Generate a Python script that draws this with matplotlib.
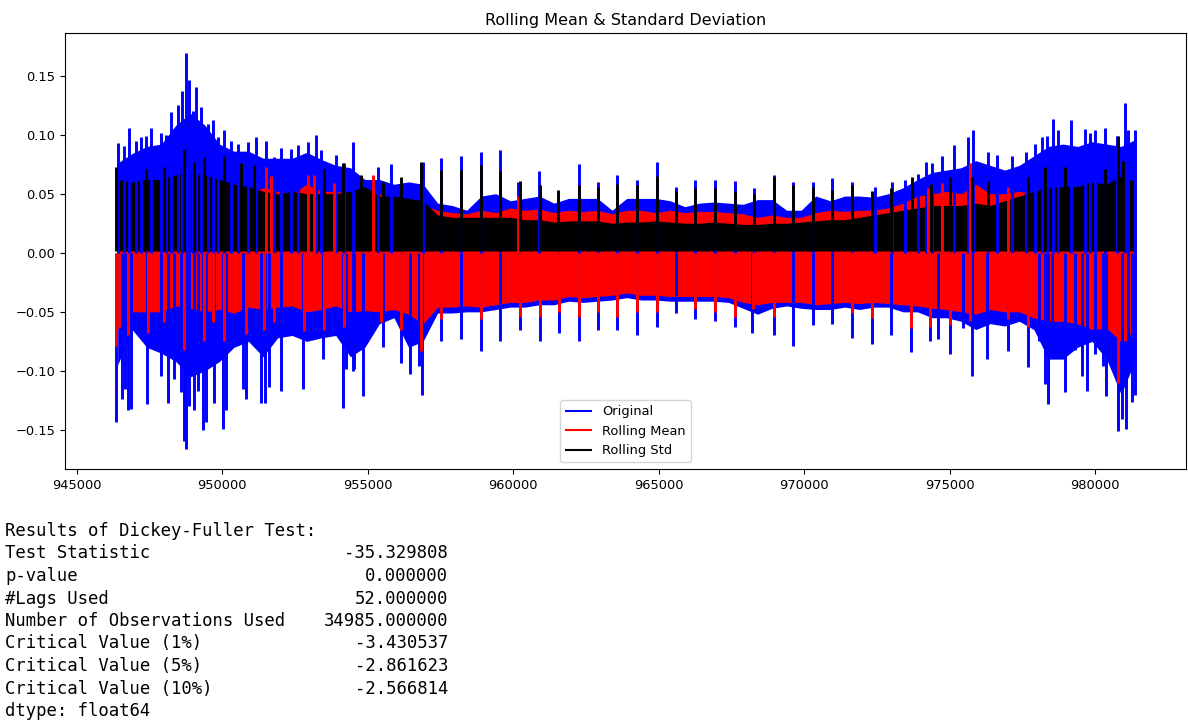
import numpy as np
import matplotlib
matplotlib.use("Agg")
import matplotlib.pyplot as plt

# outline of each series, sampled every 500 steps
grid_x = np.arange(946400, 981401, 500)

orig_hi = [0.076, 0.084, 0.090, 0.092, 0.108, 0.118, 0.108, 0.092, 0.086, 0.086,
           0.080, 0.080, 0.080, 0.085, 0.079, 0.074, 0.072, 0.062, 0.062, 0.058,
           0.060, 0.058, 0.042, 0.040, 0.036, 0.048, 0.050, 0.044, 0.046, 0.048,
           0.042, 0.046, 0.046, 0.046, 0.036, 0.046, 0.046, 0.046, 0.044, 0.039,
           0.042, 0.043, 0.042, 0.041, 0.045, 0.045, 0.036, 0.036, 0.048, 0.044,
           0.048, 0.048, 0.047, 0.050, 0.055, 0.062, 0.068, 0.070, 0.072, 0.078,
           0.074, 0.070, 0.074, 0.082, 0.090, 0.092, 0.090, 0.094, 0.092, 0.090,
           0.096]
orig_lo = [-0.095, -0.065, -0.080, -0.085, -0.092, -0.105, -0.100, -0.092, -0.080, -0.075,
           -0.088, -0.072, -0.070, -0.075, -0.072, -0.070, -0.088, -0.080, -0.060, -0.055,
           -0.080, -0.075, -0.051, -0.051, -0.050, -0.050, -0.048, -0.046, -0.046, -0.044,
           -0.044, -0.041, -0.042, -0.041, -0.040, -0.038, -0.040, -0.040, -0.041, -0.041,
           -0.041, -0.041, -0.042, -0.047, -0.052, -0.047, -0.045, -0.047, -0.048, -0.048,
           -0.046, -0.048, -0.046, -0.046, -0.050, -0.050, -0.055, -0.055, -0.058, -0.065,
           -0.060, -0.062, -0.058, -0.065, -0.090, -0.090, -0.080, -0.075, -0.090, -0.120,
           -0.090]
mean_hi = [0.050, 0.050, 0.050, 0.050, 0.050, 0.050, 0.050, 0.050, 0.050, 0.050,
           0.055, 0.052, 0.050, 0.058, 0.052, 0.052, 0.050, 0.048, 0.050, 0.044,
           0.042, 0.040, 0.036, 0.034, 0.033, 0.036, 0.034, 0.038, 0.036, 0.037,
           0.034, 0.036, 0.035, 0.036, 0.033, 0.036, 0.036, 0.034, 0.036, 0.034,
           0.035, 0.035, 0.034, 0.033, 0.030, 0.032, 0.030, 0.030, 0.034, 0.036,
           0.035, 0.036, 0.036, 0.038, 0.042, 0.048, 0.050, 0.052, 0.050, 0.058,
           0.050, 0.050, 0.052, 0.050, 0.050, 0.050, 0.050, 0.050, 0.050, 0.050,
           0.050]
mean_lo = [-0.065, -0.050, -0.050, -0.050, -0.045, -0.047, -0.050, -0.048, -0.051, -0.046,
           -0.048, -0.046, -0.045, -0.050, -0.048, -0.045, -0.050, -0.049, -0.050, -0.048,
           -0.052, -0.060, -0.046, -0.046, -0.045, -0.046, -0.044, -0.042, -0.042, -0.040,
           -0.040, -0.037, -0.038, -0.037, -0.036, -0.034, -0.036, -0.036, -0.037, -0.037,
           -0.037, -0.037, -0.038, -0.042, -0.044, -0.042, -0.042, -0.042, -0.044, -0.043,
           -0.042, -0.043, -0.042, -0.043, -0.044, -0.045, -0.047, -0.048, -0.050, -0.052,
           -0.048, -0.050, -0.050, -0.055, -0.058, -0.058, -0.060, -0.065, -0.064, -0.075,
           -0.065]
std_hi = [0.062, 0.060, 0.062, 0.062, 0.066, 0.068, 0.066, 0.062, 0.058, 0.056,
          0.052, 0.050, 0.052, 0.050, 0.050, 0.050, 0.052, 0.056, 0.048, 0.048,
          0.046, 0.044, 0.032, 0.030, 0.030, 0.030, 0.030, 0.030, 0.028, 0.028,
          0.026, 0.027, 0.027, 0.027, 0.025, 0.026, 0.026, 0.027, 0.026, 0.025,
          0.025, 0.026, 0.025, 0.024, 0.024, 0.025, 0.025, 0.026, 0.027, 0.028,
          0.028, 0.030, 0.032, 0.034, 0.036, 0.038, 0.040, 0.040, 0.040, 0.042,
          0.040, 0.044, 0.048, 0.052, 0.055, 0.056, 0.056, 0.060, 0.058, 0.065,
          0.060]
std_floor = 0.0015

# individual peaks
orig_up_x = [946422, 946628, 946800, 947030, 947202, 947374, 947546, 947890, 948062,
             948234, 948464, 948601, 948750, 948865, 948980, 949094, 949266, 949496,
             949668, 949840, 950069, 950299, 950528, 950872, 951159, 951503, 951790,
             952019, 952363, 952593, 952937, 953224, 953396, 953912, 954199, 954486,
             955347, 955806, 956895, 957526, 958191, 958879, 959545, 960164, 960887,
             962252, 962917, 963582, 964270, 964936, 965612, 966266, 966954, 967620,
             968280, 968972, 969626, 970314, 970968, 971633, 972436, 973010, 973466,
             973927, 974191, 974386, 974753, 975154, 975648, 975820, 976313, 976645,
             977139, 977620, 977942, 978171, 978343, 978572, 978745, 979169, 979662,
             979834, 980006, 980350, 980752, 981016, 981153, 981360]
orig_up_y = [0.093, 0.090, 0.106, 0.095, 0.098, 0.099, 0.106, 0.101, 0.100,
             0.119, 0.125, 0.137, 0.169, 0.146, 0.120, 0.140, 0.123, 0.109,
             0.112, 0.098, 0.104, 0.095, 0.092, 0.094, 0.098, 0.095, 0.081,
             0.089, 0.088, 0.091, 0.094, 0.100, 0.087, 0.083, 0.076, 0.094,
             0.073, 0.075, 0.077, 0.080, 0.082, 0.085, 0.087, 0.060, 0.069,
             0.075, 0.060, 0.066, 0.062, 0.077, 0.056, 0.062, 0.062, 0.061,
             0.055, 0.066, 0.060, 0.060, 0.063, 0.060, 0.056, 0.060, 0.062,
             0.067, 0.077, 0.076, 0.082, 0.091, 0.098, 0.104, 0.085, 0.083,
             0.082, 0.085, 0.092, 0.098, 0.099, 0.113, 0.104, 0.112, 0.105,
             0.101, 0.104, 0.106, 0.099, 0.127, 0.104, 0.104]
orig_dn_x = [946360, 946537, 946651, 946743, 946858, 947408, 947890, 948119, 948349,
             948578, 948670, 948762, 948865, 949037, 949152, 949324, 949438, 949725,
             950012, 950127, 950700, 950815, 951331, 951469, 951618, 952019, 952765,
             953453, 954141, 954257, 954486, 954543, 954831, 955519, 956150, 956436,
             956746, 956861, 957526, 958191, 958879, 959545, 960221, 960910, 961564,
             962252, 962917, 963582, 964270, 964936, 965612, 966266, 966954, 967620,
             968200, 968972, 969626, 970314, 970968, 971656, 972321, 972987, 973675,
             974329, 974615, 975017, 975476, 975785, 976278, 977024, 977689, 978079,
             978286, 978378, 978515, 978974, 979318, 979547, 979719, 980006, 980293,
             980385, 980786, 980924, 981061, 981153, 981267, 981360]
orig_dn_y = [-0.143, -0.124, -0.115, -0.133, -0.132, -0.128, -0.104, -0.127, -0.107,
             -0.118, -0.159, -0.166, -0.130, -0.133, -0.117, -0.150, -0.143, -0.127,
             -0.149, -0.133, -0.115, -0.124, -0.127, -0.127, -0.114, -0.117, -0.115,
             -0.090, -0.131, -0.098, -0.100, -0.098, -0.121, -0.080, -0.093, -0.103,
             -0.096, -0.120, -0.075, -0.073, -0.083, -0.075, -0.065, -0.075, -0.068,
             -0.075, -0.065, -0.065, -0.070, -0.063, -0.051, -0.056, -0.058, -0.063,
             -0.068, -0.070, -0.079, -0.061, -0.060, -0.072, -0.077, -0.070, -0.084,
             -0.075, -0.073, -0.086, -0.064, -0.104, -0.090, -0.083, -0.097, -0.075,
             -0.111, -0.128, -0.084, -0.118, -0.082, -0.104, -0.117, -0.086, -0.096,
             -0.121, -0.151, -0.141, -0.149, -0.101, -0.126, -0.120]

mean_up_x = [951503, 951675, 952937, 953166, 953855, 955175, 960164,
             974271, 974730, 975705, 977024]
mean_up_y = [0.073, 0.065, 0.066, 0.066, 0.059, 0.066, 0.048,
             0.055, 0.059, 0.076, 0.056]
mean_dn_x = [946360, 946743, 947431, 948005, 948693, 949381, 949668, 950069, 950815,
             951446, 951790, 952822, 953510, 954199, 955461, 956150, 956838, 957526,
             958902, 960221, 960910, 961564, 962252, 962917, 963582, 964270, 964936,
             966266, 966954, 967620, 968249, 968972, 971633, 972321, 973675, 974329,
             975017, 975705, 977024, 977712, 980786, 981038]
mean_dn_y = [-0.079, -0.070, -0.068, -0.059, -0.082, -0.075, -0.059, -0.075, -0.069,
             -0.065, -0.059, -0.066, -0.065, -0.063, -0.059, -0.065, -0.083, -0.056,
             -0.056, -0.054, -0.054, -0.050, -0.054, -0.050, -0.054, -0.050, -0.050,
             -0.048, -0.050, -0.054, -0.048, -0.054, -0.051, -0.055, -0.064, -0.063,
             -0.061, -0.058, -0.056, -0.063, -0.110, -0.075]

std_up_x = [946360, 947374, 948005, 948693, 949037, 949381, 950069, 950643, 951102,
            953510, 954141, 954773, 955519, 956150, 956838, 957526, 958191, 958879,
            959545, 960221, 960910, 961541, 962252, 962917, 963582, 964270, 964936,
            965612, 966266, 966954, 967620, 968280, 968972, 969626, 970314, 970968,
            971656, 972321, 972987, 973698, 974363, 975017, 975762, 976336, 977712,
            978286, 978974, 980350, 980786, 980981]
std_up_y = [0.073, 0.071, 0.073, 0.088, 0.077, 0.081, 0.082, 0.076, 0.074,
            0.071, 0.076, 0.066, 0.060, 0.064, 0.077, 0.070, 0.070, 0.074,
            0.069, 0.061, 0.057, 0.053, 0.057, 0.056, 0.058, 0.057, 0.065,
            0.052, 0.055, 0.055, 0.052, 0.050, 0.064, 0.057, 0.056, 0.053,
            0.057, 0.052, 0.055, 0.064, 0.058, 0.064, 0.064, 0.061, 0.064,
            0.073, 0.073, 0.071, 0.099, 0.078]

adf_labels = ["Test Statistic", "p-value", "#Lags Used",
              "Number of Observations Used", "Critical Value (1%)",
              "Critical Value (5%)", "Critical Value (10%)"]
adf_values = [-35.329808, 0.000000, 52.000000, 34985.000000,
              -3.430537, -2.861623, -2.566814]

W, H = 1188, 724
fig = plt.figure(figsize=(W / 100, H / 100), dpi=100)
ax = fig.add_axes([65 / W, 1 - 469 / H, (1186 - 65) / W, (469 - 33) / H])

lw = 2.1
series = [
    ("blue", "Original", orig_lo, orig_hi, orig_up_x, orig_up_y, orig_dn_x, orig_dn_y),
    ("red", "Rolling Mean", mean_lo, mean_hi, mean_up_x, mean_up_y, mean_dn_x, mean_dn_y),
]
for color, label, lo, hi, ux, uy, dx, dy in series:
    ax.fill_between(grid_x, lo, hi, color=color, linewidth=0)
    ax.vlines(ux, 0, uy, color=color, linewidth=lw, label=label)
    ax.vlines(dx, dy, 0, color=color, linewidth=lw)

ax.fill_between(grid_x, std_floor, std_hi, color="black", linewidth=0)
ax.vlines(std_up_x, std_floor, std_up_y, color="black", linewidth=lw,
          label="Rolling Std")

ax.set_xlim(944590, 983130)
ax.set_ylim(-0.183, 0.186)
ax.set_yticks([-0.15, -0.10, -0.05, 0.00, 0.05, 0.10, 0.15])
ax.tick_params(labelsize=9.4)
ax.set_title("Rolling Mean & Standard Deviation", fontsize=11.5)
leg = ax.legend(loc="lower center", fontsize=9.4)
for line in leg.get_lines():
    line.set_linewidth(1.5)

mono = dict(family="DejaVu Sans Mono", fontsize=12.4, va="center")
y0, dy_line = 531, 22.5
fig.text(5 / W, 1 - y0 / H, "Results of Dickey-Fuller Test:", **mono)
for i, (name, val) in enumerate(zip(adf_labels, adf_values)):
    y = 1 - (y0 + (i + 1) * dy_line) / H
    fig.text(5 / W, y, name, **mono)
    fig.text(448 / W, y, f"{val:.6f}", ha="right", **mono)
fig.text(5 / W, 1 - (y0 + 8 * dy_line) / H, "dtype: float64", **mono)

fig.savefig("out.png", dpi=100)
